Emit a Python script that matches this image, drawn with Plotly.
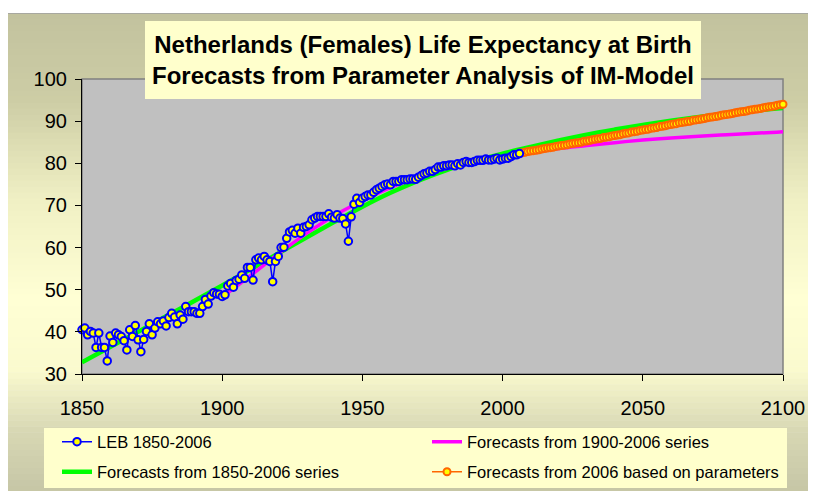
import plotly.graph_objects as go

# ---------------- data ----------------
leb_years = list(range(1850, 2007))
leb_values = [
    40.5, 40.9, 39.3, 40.1, 39.7, 36.3, 39.7, 36.3, 36.3, 33.1,   # 1850-1859
    39.0, 37.5, 39.7, 39.3, 38.9, 37.9, 35.7, 40.5, 38.9, 41.5,   # 1860-1869
    38.1, 35.3, 38.2, 40.1, 41.9, 39.3, 40.9, 42.4, 41.9, 42.6,   # 1870-1879
    41.4, 43.4, 44.4, 43.5, 41.9, 44.0, 43.0, 46.0, 44.8, 44.8,   # 1880-1889
    44.8, 44.4, 44.4, 46.0, 47.7, 46.6, 48.5, 49.3, 49.0, 48.9,   # 1890-1899
    48.4, 48.8, 50.9, 51.5, 50.6, 52.2, 52.5, 53.5, 52.7, 55.3,   # 1900-1909
    55.3, 52.3, 57.1, 57.5, 57.1, 57.9, 57.1, 56.7, 51.9, 56.7,   # 1910-1919
    57.9, 60.0, 60.1, 62.2, 63.7, 64.1, 63.4, 64.6, 63.4, 64.8,   # 1920-1929
    65.0, 65.4, 66.6, 67.0, 67.4, 67.4, 67.4, 67.4, 68.0, 67.2,   # 1930-1939
    67.0, 67.8, 67.0, 66.9, 65.6, 61.5, 67.3, 70.3, 71.7, 70.7,   # 1940-1949
    71.7, 72.1, 72.5, 72.5, 73.1, 73.7, 74.1, 74.5, 74.9, 75.1,   # 1950-1959
    74.9, 75.7, 75.7, 75.7, 76.1, 76.1, 76.1, 76.3, 76.3, 76.2,   # 1960-1969
    76.7, 77.1, 77.5, 77.7, 78.1, 78.1, 78.5, 79.1, 79.1, 79.4,   # 1970-1979
    79.4, 79.6, 79.6, 79.4, 79.9, 79.6, 80.2, 80.4, 80.2, 80.2,   # 1980-1989
    80.4, 80.7, 80.7, 80.7, 81.0, 80.8, 80.8, 81.0, 81.2, 80.8,   # 1990-1999
    81.0, 81.2, 81.2, 81.6, 82.0, 82.0, 82.3,                     # 2000-2006
]

green_years = list(range(1850, 2101, 10))
green_values = [32.8, 36.4, 40.0, 43.7, 47.3, 51.0, 54.8, 58.6, 62.4, 66.1,
                69.7, 73.0, 75.9, 78.4, 80.5, 82.3, 83.9, 85.4, 86.8, 88.0,
                89.1, 90.1, 91.0, 91.8, 92.5, 93.1]

magenta_years = list(range(1900, 2101, 10))
magenta_values = [48.3, 53.3, 58.5, 63.3, 67.6, 71.1, 74.2, 76.7, 78.8, 80.4,
                  81.6, 82.6, 83.5, 84.2, 84.9, 85.5, 86.0, 86.4, 86.8, 87.1,
                  87.5]

orange_years = list(range(2006, 2101))
orange_values = [
    82.4, 82.5, 82.6, 82.8, 82.9, 83.0, 83.1, 83.2, 83.4, 83.5,   # 2006-2015
    83.6, 83.7, 83.8, 84.0, 84.1, 84.2, 84.3, 84.4, 84.6, 84.7,   # 2016-2025
    84.8, 84.9, 85.0, 85.2, 85.3, 85.4, 85.6, 85.7, 85.8, 85.9,   # 2026-2035
    86.1, 86.2, 86.3, 86.5, 86.6, 86.7, 86.8, 87.0, 87.1, 87.2,   # 2036-2045
    87.4, 87.5, 87.6, 87.8, 87.9, 88.0, 88.1, 88.3, 88.4, 88.5,   # 2046-2055
    88.7, 88.8, 88.9, 89.1, 89.2, 89.3, 89.4, 89.6, 89.7, 89.8,   # 2056-2065
    89.9, 90.0, 90.2, 90.3, 90.4, 90.5, 90.6, 90.8, 90.9, 91.0,   # 2066-2075
    91.1, 91.2, 91.4, 91.5, 91.6, 91.7, 91.8, 92.0, 92.1, 92.2,   # 2076-2085
    92.3, 92.4, 92.6, 92.7, 92.8, 92.9, 93.0, 93.2, 93.3, 93.4,   # 2086-2095
    93.5, 93.6, 93.8, 93.9, 94.0,                                 # 2096-2100
]

x_ticks = [1850, 1900, 1950, 2000, 2050, 2100]
y_ticks = [30, 40, 50, 60, 70, 80, 90, 100]

title_text = ("<b>Netherlands (Females) Life Expectancy at Birth<br>"
              "Forecasts from Parameter Analysis of IM-Model</b>")

# ---------------- layout geometry ----------------
# The page body adds an 8px offset; all screen positions below are shifted by it.
OFF = 8
W, H = 816, 491
ML = 82 - OFF
MT = 79 - OFF
PW, PH = 701, 295
MR = W - ML - PW
MB = H - MT - PH
FONT = "Liberation Sans, Arial, sans-serif"


def px_x(px):   # screen pixel -> paper x
    return (px - OFF - ML) / PW


def px_y(py):   # screen pixel -> paper y
    return (MT + PH - (py - OFF)) / PH


# gradient background (vertical, olive -> light yellow -> olive)
stops = [(13, (194, 194, 158)), (100, (205, 205, 165)), (200, (240, 240, 196)),
         (300, (255, 255, 212)), (370, (250, 250, 206)), (430, (216, 216, 180)),
         (491, (198, 198, 166))]


def grad_color(py):
    for (ya, ca), (yb, cb) in zip(stops[:-1], stops[1:]):
        if ya <= py <= yb:
            t = (py - ya) / (yb - ya)
            c = [round(a + (b - a) * t) for a, b in zip(ca, cb)]
            return "rgb(%d,%d,%d)" % tuple(c)
    return "rgb(%d,%d,%d)" % stops[-1][1]


shapes = []
N = 80
top, bot = 13, 492
step = (bot - top) / N
for i in range(N):
    y0 = top + i * step
    y1 = y0 + step + 0.6
    shapes.append(dict(type="rect", xref="paper", yref="paper", layer="below",
                       x0=px_x(6), x1=px_x(830), y0=px_y(y1), y1=px_y(y0),
                       fillcolor=grad_color(y0 + step / 2), line=dict(width=0)))
# outer chart-area border
shapes.append(dict(type="rect", xref="paper", yref="paper", layer="below",
                   x0=px_x(6.5), x1=px_x(840), y0=px_y(520), y1=px_y(13.5),
                   fillcolor="rgba(0,0,0,0)", line=dict(color="#A8A8A0", width=1)))
# plot area
shapes.append(dict(type="rect", xref="paper", yref="paper", layer="below",
                   x0=0, x1=1, y0=0, y1=1, fillcolor="#C0C0C0",
                   line=dict(color="#808080", width=1.5)))
# title box
shapes.append(dict(type="rect", xref="paper", yref="paper", layer="below",
                   x0=px_x(145), x1=px_x(701), y0=px_y(99), y1=px_y(21),
                   fillcolor="#FFFFCC", line=dict(width=0)))
# legend box
shapes.append(dict(type="rect", xref="paper", yref="paper", layer="below",
                   x0=px_x(44), x1=px_x(787), y0=px_y(488), y1=px_y(428),
                   fillcolor="#FFFFCC", line=dict(width=0)))

fig = go.Figure()

fig.add_trace(go.Scatter(
    x=green_years, y=green_values, mode="lines",
    name="Forecasts from 1850-2006 series", legend="legend2", legendrank=1,
    line=dict(color="#00FF00", width=4.5, shape="spline"), cliponaxis=False))

fig.add_trace(go.Scatter(
    x=magenta_years, y=magenta_values, mode="lines",
    name="Forecasts from 1900-2006 series", legend="legend", legendrank=2,
    line=dict(color="#FF00FF", width=3.5, shape="spline"), cliponaxis=False))

fig.add_trace(go.Scatter(
    x=orange_years, y=orange_values, mode="lines+markers",
    name="Forecasts from 2006 based on parameters", legend="legend2", legendrank=2,
    line=dict(color="#FF6600", width=1.5),
    marker=dict(symbol="circle", size=7, color="#FFFF00",
                line=dict(color="#FF6600", width=2)),
    cliponaxis=False))

fig.add_trace(go.Scatter(
    x=leb_years, y=leb_values, mode="lines+markers",
    name="LEB 1850-2006", legend="legend", legendrank=1,
    line=dict(color="#0000FF", width=1.5),
    marker=dict(symbol="circle", size=7.5, color="#FFFF00",
                line=dict(color="#0000FF", width=2)),
    cliponaxis=False))

fig.add_annotation(text=title_text, xref="paper", yref="paper",
                   x=px_x(423), y=px_y(60), xanchor="center", yanchor="middle",
                   showarrow=False, align="center",
                   font=dict(family=FONT, size=24, color="black"))

legend_common = dict(orientation="h", xref="paper", yref="paper",
                     xanchor="left", yanchor="middle",
                     bgcolor="rgba(0,0,0,0)", borderwidth=0,
                     entrywidth=325, entrywidthmode="pixels",
                     traceorder="normal",
                     font=dict(family=FONT, size=16.5, color="black"))

fig.update_layout(
    width=W, height=H,
    margin=dict(l=ML, r=MR, t=MT, b=MB, autoexpand=False),
    paper_bgcolor="white",
    plot_bgcolor="rgba(0,0,0,0)",
    shapes=shapes,
    showlegend=True,
    legend=dict(legend_common, x=px_x(57), y=px_y(442)),
    legend2=dict(legend_common, x=px_x(57), y=px_y(472)),
    xaxis=dict(range=[1850, 2100], tickvals=x_ticks, showgrid=False, zeroline=False,
               showline=True, linecolor="black", linewidth=1.2,
               ticks="outside", ticklen=6, tickcolor="black", tickwidth=1.2,
               ticklabelstandoff=10,
               tickfont=dict(family=FONT, size=20, color="black")),
    yaxis=dict(range=[30, 100], tickvals=y_ticks, showgrid=False, zeroline=False,
               showline=True, linecolor="black", linewidth=1.2,
               ticks="outside", ticklen=6, tickcolor="black", tickwidth=1.2,
               ticklabelstandoff=4,
               tickfont=dict(family=FONT, size=20, color="black")),
)

fig.write_html("out.html")
